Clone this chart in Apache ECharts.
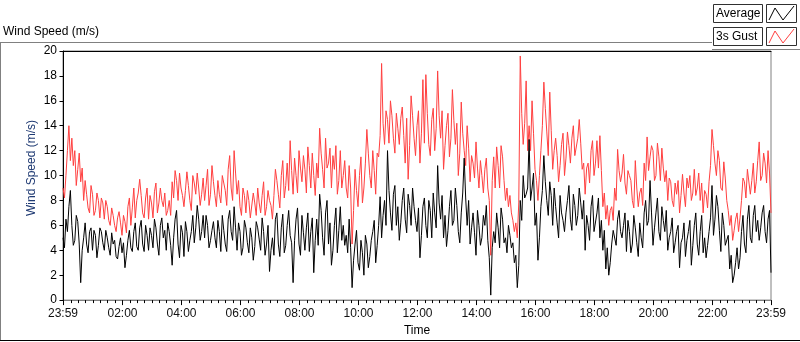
<!DOCTYPE html>
<html>
<head>
<meta charset="utf-8">
<script src="https://cdn.jsdelivr.net/npm/echarts@6/dist/echarts.min.js"></script>
<style>
html, body { margin: 0; padding: 0; background: #fff; }
#chart { width: 800px; height: 342px; }
</style>
</head>
<body>
<div id="chart"></div>
<script>
// time axis in minutes after midnight, first sample at 23:59 of the day before
var startMinute = -1;
var stepMinutes = 3;
var majorMinutes = [-1, 120, 240, 360, 480, 600, 720, 840, 960, 1080, 1200, 1320, 1439];
var majorLabels = ['23:59', '02:00', '04:00', '06:00', '08:00', '10:00', '12:00',
                   '14:00', '16:00', '18:00', '20:00', '22:00', '23:59'];
var yTicks = [0, 20, 2];

// 3 minute samples
var avgSpeed = [
    5.0,4.2, 6.5,5.5, 7.5,8.8, 6.0,4.4, 4.8,6.8, 6.3,4.5, 1.4,4.0, 5.0,6.2, 4.5,3.8, 5.5,5.8,
    4.0,5.6, 5.2,3.4, 4.4,5.8, 5.5,4.6, 4.0,5.6, 5.0,4.2, 3.6,5.4, 4.5,4.8, 3.5,3.3, 4.3,5.0,
    3.8,4.6, 2.6,3.6, 4.8,5.6, 4.2,3.9, 5.5,6.2, 4.3,4.0, 5.8,6.4, 4.5,3.9, 6.0,5.2, 4.0,5.8,
    5.2,4.2, 6.5,5.8, 4.5,3.6, 6.0,6.6, 5.0,5.6, 4.0,6.2, 5.5,4.4, 2.8,5.0, 6.5,7.2, 4.5,3.4,
    6.0,5.4, 3.5,6.3, 5.5,3.9, 4.8,5.5, 6.8,4.6, 5.8,7.6, 6.5,4.8, 5.5,6.8,
    5.0,6.8, 6.0,4.2, 4.8,5.6, 6.3,5.0, 4.2,6.4, 5.5,3.9, 6.8,5.6, 4.5,3.9, 6.5,7.2, 5.5,4.8,
    7.5,5.8, 4.0,6.2, 5.5,3.6, 4.2,6.4, 5.8,4.6, 3.8,5.8, 5.0,3.2, 4.3,6.3, 5.8,4.9, 4.0,6.6,
    5.5,3.6, 4.5,6.0, 2.3,4.0, 5.0,3.6, 6.5,7.0, 4.5,3.5, 5.8,6.9, 3.8,4.4, 6.0,7.2, 5.2,4.6,
    1.4,4.8, 6.5,7.4, 4.5,3.6, 6.8,5.4, 4.0,5.8, 7.0,3.9, 5.5,6.6, 2.2,4.8, 6.5,4.4, 8.5,7.2,
    5.0,3.6, 7.0,8.0, 4.5,6.2, 2.8,4.0, 6.0,7.4, 3.8,5.6, 7.5,4.8,
    6.0,4.4, 5.2,3.8, 6.5,4.2, 1.0,3.2, 4.5,5.6, 3.0,2.4, 4.8,3.8, 2.0,5.2, 4.5,2.6, 3.5,4.8,
    5.5,6.4, 3.0,4.4, 6.0,8.3, 5.0,6.8, 8.0,6.0, 12.0,8.8, 7.0,5.6, 8.5,9.2, 6.0,7.5, 4.8,6.2,
    8.0,9.0, 6.5,5.4, 8.5,7.6, 6.0,9.0, 7.5,6.4, 5.5,7.4, 3.4,5.2, 7.5,8.2, 6.0,5.0, 8.0,7.2,
    5.0,8.6, 7.0,5.8, 10.8,7.8, 6.5,8.4, 5.0,6.8, 4.3,5.6, 7.5,8.8, 6.0,6.4, 9.0,7.6, 5.5,4.6,
    7.0,8.6, 11.4,8.2, 6.0,8.0, 4.5,5.8, 7.0,5.4, 3.6,7.2, 6.0,4.4, 5.0,6.8,
    6.0,7.6, 4.8,3.4, 0.4,4.2, 5.5,4.6, 7.0,5.8, 4.2,7.4, 6.5,4.6, 5.0,3.8, 6.0,5.2, 4.2,4.6,
    3.0,3.6, 1.0,2.8, 8.0,6.4, 10.0,8.2, 8.5,9.0, 12.9,8.0, 9.0,10.2, 6.0,7.0, 3.2,5.0, 7.5,8.8,
    11.6,9.5, 8.0,6.8, 9.5,8.4, 6.0,9.0, 7.5,6.2, 5.0,8.4, 7.0,6.4, 5.5,7.0, 8.0,9.2, 6.5,5.6,
    8.5,7.6, 6.0,6.8, 9.0,7.8, 6.5,8.0, 4.0,6.8, 6.0,4.8, 7.5,8.4, 5.5,5.4, 7.0,8.2, 5.0,6.4,
    4.0,5.6, 2.5,4.2, 2.0,3.0, 4.5,5.6, 5.5,4.4, 6.5,7.2, 5.5,5.0,
    6.0,7.0, 3.9,6.4, 5.5,3.8, 4.5,6.8, 5.8,4.6, 3.5,6.2, 5.0,4.2, 7.0,8.0, 6.0,6.4, 9.6,7.0,
    4.4,5.8, 7.0,8.2, 5.5,4.8, 7.5,6.4, 5.5,7.2, 4.0,5.0, 5.5,6.6, 3.8,4.6, 5.5,6.0, 2.6,4.6,
    5.0,6.2, 3.5,4.8, 5.5,6.4, 2.8,4.4, 6.0,7.0, 4.5,3.6, 5.5,6.8, 3.8,5.0, 3.4,4.4, 5.5,6.6,
    9.2,5.2, 6.5,8.4, 7.5,5.6, 3.9,7.0, 6.0,4.4, 4.5,5.2, 2.5,3.6, 1.4,2.0, 3.0,4.2, 2.5,3.4,
    5.5,6.8, 4.5,3.8, 6.5,7.6, 5.0,4.6, 6.8,7.6, 5.5,6.4, 4.8,5.8, 7.0,7.6, 5.5,4.6, 6.5,7.2,
    2.2
];

var gustSpeed = [
    9.0,8.2, 10.0,12.0, 14.0,11.2, 13.0,10.8, 12.0,9.2, 10.5,11.8, 9.5,10.6, 8.0,9.6, 8.5,7.4, 7.0,9.2,
    8.5,6.8, 7.2,8.6, 8.0,6.6, 8.2,7.8, 6.5,8.0, 7.5,6.4, 6.0,7.4, 6.8,6.0, 5.5,6.6, 7.1,6.2,
    5.2,6.8, 6.3,5.4, 7.5,8.2, 6.0,7.4, 9.0,6.6, 8.0,8.6, 9.7,8.4, 7.0,6.6, 8.2,9.0, 6.5,8.4,
    7.8,6.6, 8.7,9.4, 7.0,7.8, 9.0,8.0, 7.5,8.6, 6.8,7.2, 8.0,6.8, 9.5,8.2, 10.4,9.6, 8.0,10.2,
    9.0,8.4, 7.5,8.8, 10.3,9.2, 8.0,7.2, 10.0,9.4, 8.5,10.2, 9.0,7.6, 8.5,9.8,
    8.0,9.2, 10.5,7.6, 8.5,10.8, 9.5,8.4, 7.5,9.6, 8.5,7.8, 10.0,9.4, 8.8,7.6, 10.5,11.6, 9.0,8.0,
    12.0,10.2, 8.5,9.6, 7.5,6.8, 9.0,8.4, 7.0,8.8, 8.0,6.6, 6.5,8.6, 7.8,6.8, 9.0,7.8, 7.0,8.4,
    9.5,6.8, 7.5,8.8, 8.0,7.6, 6.5,8.4, 10.5,9.6, 8.5,7.4, 10.0,11.2, 8.2,9.2, 11.0,8.8, 12.8,10.4,
    8.5,11.4, 10.0,8.6, 12.0,10.6, 9.5,11.6, 10.5,8.6, 12.3,10.8, 9.0,11.8, 10.0,8.4, 11.0,9.8, 13.8,11.8,
    10.5,9.0, 13.0,10.6, 11.0,12.2, 9.0,11.6, 10.5,12.4, 8.5,9.6, 12.0,9.0,
    10.0,11.2, 9.0,8.2, 10.8,9.0, 4.5,7.2, 10.5,8.8, 7.5,10.0, 11.5,7.8, 9.0,11.0, 13.7,11.8, 10.0,9.0,
    12.0,10.4, 8.5,11.8, 11.5,13.2, 19.0,14.2, 12.5,15.2, 14.5,12.6, 16.0,14.8, 13.0,11.8, 15.0,13.8, 12.5,14.6,
    15.5,13.2, 11.0,14.6, 9.7,12.4, 16.4,14.8, 13.0,11.6, 14.0,15.2, 11.0,13.4, 17.7,12.6, 18.1,15.0, 12.5,11.6,
    14.5,15.4, 12.0,13.8, 18.4,14.8, 13.0,15.2, 10.5,12.4, 14.0,15.0, 11.5,13.0, 16.9,14.4, 12.5,14.2, 10.0,11.8,
    15.9,13.4, 12.0,10.8, 14.0,12.2, 9.5,11.6, 11.0,9.8, 12.7,10.6, 9.0,11.2, 10.0,8.6,
    10.5,11.4, 9.0,8.0, 3.6,9.6, 11.5,9.0, 12.3,10.8, 9.0,12.4, 11.5,9.6, 8.0,9.0, 7.5,8.4, 7.0,6.4,
    5.5,6.2, 5.0,7.8, 19.6,15.0, 12.5,14.2, 17.6,12.0, 14.0,12.0, 16.0,13.4, 10.5,9.6, 8.0,10.0, 12.0,14.0,
    17.5,15.4, 13.5,11.6, 16.7,13.6, 10.5,12.0, 13.0,11.6, 9.5,10.8, 12.5,13.4, 10.0,11.4, 13.5,12.4, 11.0,13.0,
    14.0,11.6, 11.5,13.0, 14.5,12.6, 10.5,11.0, 8.5,10.6, 11.0,9.4, 12.0,12.8, 10.0,11.0, 12.8,10.6, 13.2,10.4,
    7.5,8.6, 6.5,7.6, 6.0,7.2, 7.5,6.4, 9.0,8.0, 12.1,10.4, 9.5,10.2,
    11.7,9.4, 8.5,10.4, 10.0,9.6, 8.0,7.4, 11.2,9.0, 7.5,8.6, 9.0,7.6, 11.0,9.6, 13.1,10.4, 11.5,12.4,
    12.0,9.6, 10.0,12.6, 11.5,9.6, 12.2,10.6, 9.5,10.4, 8.0,9.8, 9.5,8.0, 7.5,9.4, 8.5,9.6, 7.0,8.4,
    10.1,8.6, 7.5,9.8, 9.0,10.0, 8.0,8.6, 10.5,8.4, 9.0,10.2, 8.0,9.4, 7.0,8.8, 8.5,7.4, 9.5,10.8,
    13.7,12.4, 11.0,10.0, 12.0,11.2, 9.0,8.8, 11.1,9.8, 8.0,7.2, 6.0,6.8, 4.8,5.6, 6.5,7.0, 5.5,6.6,
    8.0,9.8, 9.5,8.2, 10.5,10.6, 8.5,9.6, 11.0,8.6, 9.5,11.2, 12.7,9.6, 10.0,11.8, 11.0,9.4, 12.0,10.2,
    7.0
];

function toPairs(values) {
    return values.map(function (v, i) { return [startMinute + i * stepMinutes, v]; });
}

// 15 minute minor ticks between the 2 hour marks
var minorMinutes = [];
for (var m = 15; m < 1439; m += 15) {
    if (m % 120 !== 0) minorMinutes.push(m);
}

var font = 'Liberation Sans';
var gustColor = '#ff4040';
var xMin = majorMinutes[0], xMax = majorMinutes[majorMinutes.length - 1];

var chart = echarts.init(document.getElementById('chart'));

var option = {
    animation: false,
    backgroundColor: '#fff',
    grid: {
        left: 63, top: 51, right: 29, bottom: 39,
        show: true, borderColor: '#808080', borderWidth: 1
    },
    xAxis: [
        {
            type: 'value', position: 'bottom', min: xMin, max: xMax,
            axisLine: {lineStyle: {color: '#808080'}},
            axisTick: {customValues: majorMinutes, length: 5, lineStyle: {color: '#000'}},
            axisLabel: {
                customValues: majorMinutes,
                formatter: function (v) { return majorLabels[majorMinutes.indexOf(v)]; },
                margin: 8, fontFamily: font, fontSize: 12, color: '#111'
            },
            splitLine: {show: false},
            name: 'Time', nameLocation: 'middle', nameGap: 24,
            nameTextStyle: {fontFamily: font, fontSize: 12, color: '#000'}
        },
        {
            type: 'value', position: 'bottom', min: xMin, max: xMax,
            axisLine: {show: false},
            axisTick: {customValues: minorMinutes, length: 3, lineStyle: {color: '#000'}},
            axisLabel: {show: false},
            splitLine: {show: false}
        },
        {
            type: 'value', position: 'top', min: xMin, max: xMax,
            axisLine: {lineStyle: {color: '#000'}},
            axisTick: {show: false},
            axisLabel: {show: false},
            splitLine: {show: false}
        }
    ],
    yAxis: {
        type: 'value', min: yTicks[0], max: yTicks[1], interval: yTicks[2],
        axisLine: {show: true, lineStyle: {color: '#000'}},
        axisTick: {show: true, length: 4, lineStyle: {color: '#000'}},
        axisLabel: {margin: 6, fontFamily: font, fontSize: 12, color: '#000'},
        splitLine: {show: false}
    },
    series: [
        {
            name: '3s Gust', type: 'line', data: toPairs(gustSpeed),
            showSymbol: false, z: 2,
            lineStyle: {color: gustColor, width: 1}, itemStyle: {color: gustColor}
        },
        {
            name: 'Average', type: 'line', data: toPairs(avgSpeed),
            showSymbol: false, z: 3,
            lineStyle: {color: '#000', width: 1}, itemStyle: {color: '#000'}
        }
    ],
    graphic: [
        {type: 'text', left: 3, top: 26, style: {text: 'Wind Speed (m/s)', fontFamily: font, fontSize: 12, fill: '#000'}},
        {type: 'line', shape: {x1: 0, y1: 42.5, x2: 712, y2: 42.5}, style: {stroke: '#808080', lineWidth: 1}},
        {type: 'line', shape: {x1: 0.5, y1: 42, x2: 0.5, y2: 341}, style: {stroke: '#808080', lineWidth: 1}},
        {type: 'line', shape: {x1: 0, y1: 340.5, x2: 800, y2: 340.5}, style: {stroke: '#000', lineWidth: 1}},
        {type: 'line', shape: {x1: 712, y1: 49.5, x2: 800, y2: 49.5}, style: {stroke: '#808080', lineWidth: 1}},
        {
            type: 'text', x: 32, y: 168, rotation: Math.PI / 2,
            style: {text: 'Wind Speed (m/s)', fontFamily: font, fontSize: 12, fill: '#1f3a73', align: 'center', verticalAlign: 'middle'}
        },
        // legend: Average
        {type: 'rect', shape: {x: 713.5, y: 4.5, width: 49, height: 18}, style: {fill: '#fff', stroke: '#303030', lineWidth: 1}},
        {type: 'text', x: 716, y: 14, style: {text: 'Average', fontFamily: font, fontSize: 12, fill: '#000', verticalAlign: 'middle'}},
        {type: 'rect', shape: {x: 766.5, y: 4.5, width: 30, height: 18}, style: {fill: '#fff', stroke: '#303030', lineWidth: 1}},
        {type: 'polyline', shape: {points: [[769, 20], [775, 8], [783, 20], [794, 6]]}, style: {stroke: '#000', lineWidth: 1, fill: null}},
        // legend: 3s Gust
        {type: 'rect', shape: {x: 713.5, y: 27.5, width: 49, height: 18}, style: {fill: '#fff', stroke: '#303030', lineWidth: 1}},
        {type: 'text', x: 716, y: 37, style: {text: '3s Gust', fontFamily: font, fontSize: 12, fill: '#000', verticalAlign: 'middle'}},
        {type: 'rect', shape: {x: 766.5, y: 27.5, width: 30, height: 18}, style: {fill: '#fff', stroke: '#303030', lineWidth: 1}},
        {type: 'polyline', shape: {points: [[769, 43], [775, 31], [783, 43], [794, 29]]}, style: {stroke: gustColor, lineWidth: 1, fill: null}}
    ]
};

chart.setOption(option);
</script>
</body>
</html>
